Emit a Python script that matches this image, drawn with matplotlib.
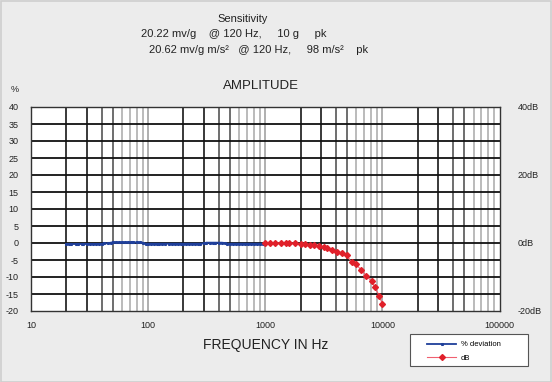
import matplotlib
matplotlib.use("Agg")
import matplotlib.pyplot as plt
from matplotlib.patches import Rectangle

plt.rcParams['font.family'] = ['Liberation Sans', 'DejaVu Sans']

# % deviation (20 Hz .. 1 kHz)
dev_freq = [20, 21, 22, 24, 25, 27, 28, 30, 32, 34, 36, 38, 40, 42, 45, 48,
            50, 53, 56, 60, 63, 67, 71, 75, 80, 85, 90, 95, 100, 106, 112,
            118, 125, 132, 140, 150, 160, 170, 180, 190, 200, 212, 224, 236,
            250, 265, 280, 300, 315, 335, 355, 375, 400, 425, 450, 475, 500,
            530, 560, 600, 630, 670, 710, 750, 800, 850, 900, 950, 1000]
dev_val = [-0.3, -0.3, -0.3, -0.3, -0.3, -0.3, -0.3, -0.3, -0.3, -0.3, -0.3,
           -0.3, -0.2, -0.1, -0.1, 0.1, 0.2, 0.2, 0.2, 0.2, 0.2, 0.2, 0.2,
           0.2, 0.2, 0.2, 0.1, -0.2, -0.2, -0.2, -0.2, -0.2, -0.2, -0.2,
           -0.2, -0.2, -0.2, -0.2, -0.2, -0.2, -0.2, -0.2, -0.2, -0.2, -0.2,
           -0.2, -0.2, -0.1, 0.1, 0.1, 0.1, 0.1, 0.1, 0.1, 0.0, -0.2, -0.2,
           -0.2, -0.2, -0.2, -0.2, -0.2, -0.2, -0.2, -0.2, -0.2, -0.2, -0.2,
           -0.2]

# dB response (1 kHz .. 10 kHz)
db_freq = [1000, 1100, 1200, 1350, 1500, 1600, 1800, 2000, 2200, 2400, 2600,
           2850, 3150, 3400, 3700, 4100, 4500, 4950, 5450, 5960, 6600, 7300,
           8100, 8600, 9400, 10000]
db_val = [0, 0, 0, 0, 0, 0, -0.1, -0.3, -0.4, -0.5, -0.7, -0.9, -1.2, -1.6,
          -2.0, -2.5, -3.0, -3.6, -5.6, -6.2, -8.0, -9.6, -11.3, -13.0, -15.5,
          -18.0]

left_ticks = [40, 35, 30, 25, 20, 15, 10, 5, 0, -5, -10, -15, -20]
right_ticks = [40, 20, 0, -20]
right_labels = ['40dB', '20dB', '0dB', '-20dB']
x_ticks = [10, 100, 1000, 10000, 100000]
x_labels = ['10', '100', '1000', '10000', '100000']

bg = '#ececec'
txt = '#222222'

fig = plt.figure(figsize=(5.52, 3.82), dpi=100, facecolor=bg)
fig.patches.append(Rectangle((0.001, 0.001), 0.997, 0.997, transform=fig.transFigure,
                             fill=False, edgecolor='#cfcfcf', lw=1.2))

ax = fig.add_axes([31 / 552, 1 - 311 / 382, 468.5 / 552, 204 / 382])
ax.set_facecolor('white')
ax.set_xscale('log')
ax.set_xlim(10, 100000)
ax.set_ylim(-20, 40)

# vertical grid lines (log decades)
for dec in [10, 100, 1000, 10000]:
    for m in range(1, 10):
        f = dec * m
        if m == 1:
            if dec == 10:
                continue
            c, w = '#9a9a9a', 1.1
        elif m in (2, 3):
            c, w = '#2a2a2a', 1.3
        elif m in (4, 5):
            c, w = '#555555', 1.2
        else:
            c, w = '#a8a8a8', 1.1
        ax.axvline(f, color=c, lw=w, zorder=1)
for y in left_ticks[1:-1]:
    ax.axhline(y, color='#111111', lw=1.3, zorder=1)

for s in ax.spines.values():
    s.set_color('#333333')
    s.set_linewidth(1.0)

ax.plot(dev_freq, dev_val, color='#1f3f9a', lw=1.3, marker='s', ms=1.2,
        mec='#1f3f9a', zorder=3, label='% deviation')
ax.plot(db_freq, db_val, color='#f06070', lw=0.8, marker='D', ms=3.0,
        mfc='#e0202a', mec='#e0202a', zorder=4, label='dB')

ax.set_yticks(left_ticks)
ax.set_yticklabels([str(t) for t in left_ticks])
ax.set_xticks(x_ticks)
ax.set_xticklabels(x_labels)
ax.minorticks_off()
ax.tick_params(axis='y', length=0, pad=9, labelsize=6.5, labelcolor=txt)
ax.tick_params(axis='x', length=0, pad=7, labelsize=6.5, labelcolor=txt)

ax2 = ax.twinx()
ax2.set_ylim(-20, 40)
ax2.set_yticks(right_ticks)
ax2.set_yticklabels(right_labels)
ax2.tick_params(axis='y', length=0, pad=13, labelsize=6.5, labelcolor=txt)
for s in ax2.spines.values():
    s.set_visible(False)

fig.text(243 / 552, 1 - 19 / 382, 'Sensitivity', ha='center', va='center',
         fontsize=8, color=txt)
fig.text(141 / 552, 1 - 34 / 382, '20.22 mv/g    @ 120 Hz,     10 g     pk',
         ha='left', va='center', fontsize=8, color=txt)
fig.text(149 / 552, 1 - 50 / 382,
         '20.62 mv/g m/s\u00b2   @ 120 Hz,     98 m/s\u00b2    pk',
         ha='left', va='center', fontsize=8, color=txt)
fig.text(261 / 552, 1 - 86 / 382, 'AMPLITUDE', ha='center', va='center',
         fontsize=9.5, color=txt)
fig.text(15 / 552, 1 - 89 / 382, '%', ha='center', va='center',
         fontsize=6.5, color=txt)
fig.text(266 / 552, 1 - 345 / 382, 'FREQUENCY IN Hz', ha='center',
         va='center', fontsize=10, color=txt)

# legend box drawn separately so its size matches the original
fig.patches.append(Rectangle((410 / 552, 1 - 366 / 382), 118 / 552, 32 / 382,
                             transform=fig.transFigure, facecolor='white',
                             edgecolor='#555555', lw=0.8, zorder=5))
leg = fig.legend(loc='upper left', bbox_to_anchor=(427 / 552, 1 - 341 / 382),
                 fontsize=5.5, frameon=False, handlelength=3.8,
                 labelspacing=0.8, handletextpad=0.6, borderpad=0,
                 borderaxespad=0)
leg.set_zorder(6)

fig.savefig('out.png', dpi=100, facecolor=bg)
